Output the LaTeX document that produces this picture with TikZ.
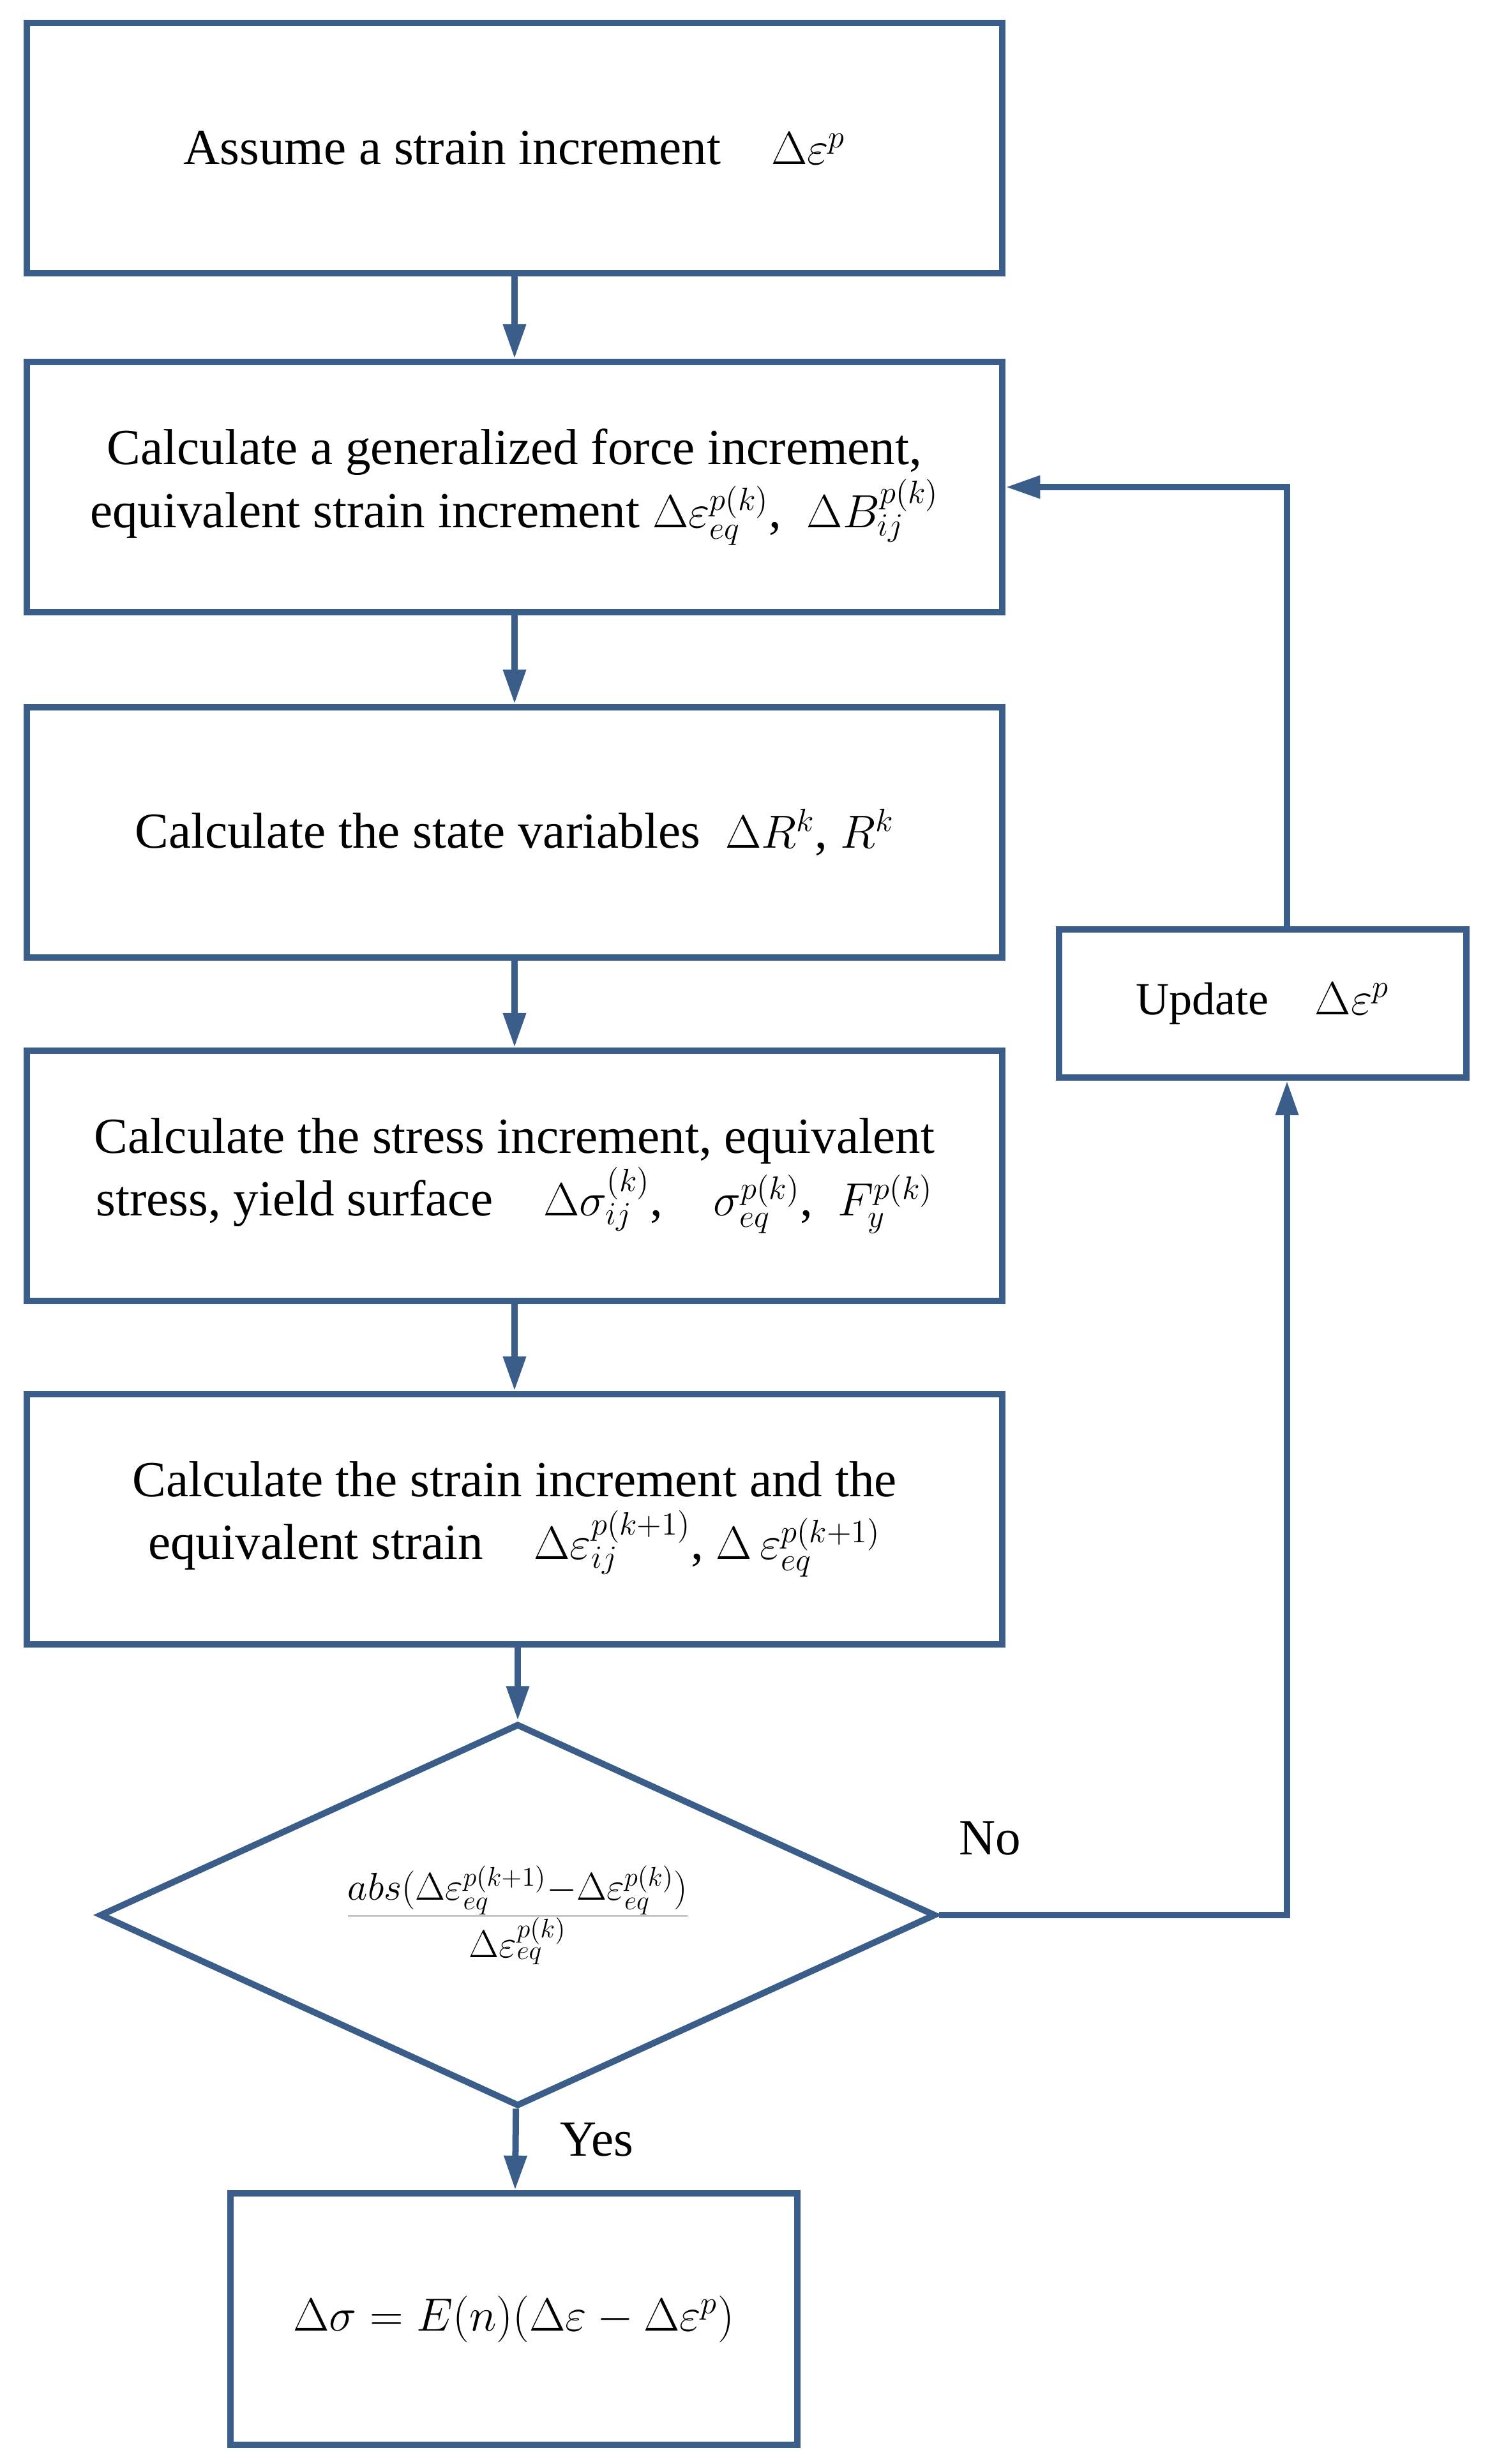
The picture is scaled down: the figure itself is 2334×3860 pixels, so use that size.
\documentclass[tikz,border=0pt]{standalone}
\usepackage{fontspec}
\setmainfont{Liberation Serif}
\usetikzlibrary{arrows.meta,shapes.geometric}
\definecolor{flowblue}{HTML}{3A5D8A}
\begin{document}
\begin{tikzpicture}[x=0.01cm,y=-0.01cm,
    line width=0.1cm,
    font=\fontsize{22.5}{28}\selectfont,
    flow/.style={draw=flowblue,-{Triangle[width=0.34cm,length=0.54cm]}},
    stepbox/.style={rectangle,draw=flowblue,align=center,inner sep=0pt,
      minimum width=15.28cm,minimum height=3.92cm}]

  \useasboundingbox (0,0) rectangle (2334,3860);

  \begin{scope}
    \node[stepbox] (1) at (806,232)  {Assume a strain increment\quad $\Delta\varepsilon^{p}$};
    \node[stepbox] (2) at (806,763)  {Calculate a generalized force increment,\\
      equivalent strain increment $\Delta\varepsilon_{eq}^{p(k)}$,\ \ $\Delta B_{ij}^{p(k)}$};
    \node[stepbox] (3) at (806,1304) {Calculate the state variables\ \ $\Delta R^{k}$,\ $R^{k}$};
    \node[stepbox] (4) at (806,1842) {Calculate the stress increment, equivalent\\
      stress, yield surface\quad $\Delta\sigma_{ij}^{(k)}$,\quad $\sigma_{eq}^{p(k)}$,\ \ $F_{y}^{p(k)}$};
    \node[stepbox] (5) at (806,2380) {Calculate the strain increment and the\\
      equivalent strain\quad $\Delta\varepsilon_{ij}^{p(k+1)}$,\ $\Delta\,\varepsilon_{eq}^{p(k+1)}$};
    \node[diamond,draw=flowblue,inner sep=0pt,aspect=2.185,
      minimum width=13.09cm,minimum height=5.99cm,font=\fontsize{25}{30}\selectfont]
      (6) at (811,3000) {$\frac{abs(\Delta\varepsilon_{eq}^{p(k+1)}-\Delta\varepsilon_{eq}^{p(k)})}{\Delta\varepsilon_{eq}^{p(k)}}$};
    \node[stepbox,minimum width=8.88cm,minimum height=3.94cm,font=\fontsize{21}{26}\selectfont]
      (7) at (805,3633) {$\Delta\sigma=E(n)(\Delta\varepsilon-\Delta\varepsilon^{p})$};
    \node[stepbox,minimum width=6.37cm,minimum height=2.32cm,font=\fontsize{20.5}{25}\selectfont]
      (8) at (1978,1572) {Update\quad $\Delta\varepsilon^{p}$};
  \end{scope}

  \node (no)  at (1551,2880) {No};
  \node (yes) at (935,3352)  {Yes};
  \coordinate (c1) at (2016,3000);

  \begin{scope}
    \path (1) edge[flow] (2);
    \path (2) edge[flow] (3);
    \path (3) edge[flow] (4);
    \path (4) edge[flow] (5);
    \path (5.south -| 6.north) edge[flow] (6);
    \path (6) edge[flow] (7);
    \draw[flow] (6.east) -- (c1) -- (8.south -| c1);
    \draw[flow] (8.north -| c1) |- (2.east);
  \end{scope}

\end{tikzpicture}
\end{document}
